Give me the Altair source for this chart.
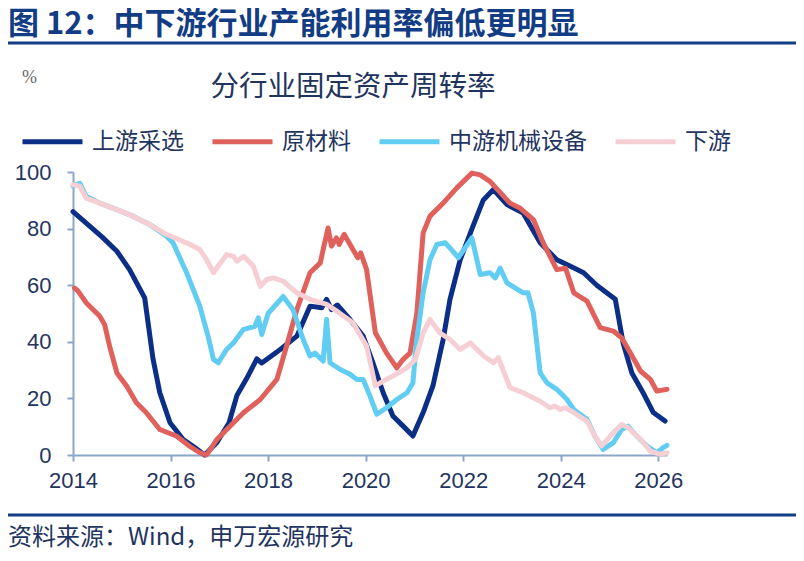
import altair as alt
import pandas as pd

FONT = "Noto Sans CJK SC"
NUMFONT = "Liberation Sans"

series_names = ["上游采选", "原材料", "中游机械设备", "下游"]
series_colors = ["#0b2e86", "#e0605c", "#62cdf2", "#f5cfd3"]

up_t = [2014.0, 2014.2, 2014.4, 2014.6, 2014.9, 2015.16, 2015.47, 2015.64, 2015.78, 2015.99,
        2016.26, 2016.47, 2016.7, 2016.95, 2017.2, 2017.36, 2017.56, 2017.77, 2017.87, 2018.25,
        2018.59, 2018.86, 2019.1, 2019.2, 2019.3, 2019.42, 2019.68, 2019.95, 2020.15, 2020.36,
        2020.56, 2020.77, 2020.97, 2021.18, 2021.38, 2021.59, 2021.73, 2021.94, 2022.2, 2022.41,
        2022.62, 2022.9, 2023.23, 2023.58, 2023.92, 2024.2, 2024.47, 2024.74, 2025.12, 2025.28,
        2025.46, 2025.69, 2025.9, 2026.14]
up_v = [86, 83, 80, 77, 72, 65.5, 55.5, 34, 22, 11.4,
        5.5, 3, 0, 4.4, 11.4, 21, 27, 34, 32.5, 37.3,
        42, 52.6, 52, 55, 51.4, 53, 47.9, 42, 32.6, 22,
        13.8, 10.2, 6.7, 15, 24.4, 40.8, 55, 69, 80.8, 90,
        93.8, 88.5, 85.5, 75, 69, 66.7, 64.4, 60, 55, 39.6,
        29, 22, 15, 12]

raw_t = [2014.03, 2014.1, 2014.27, 2014.55, 2014.65, 2014.75, 2014.9, 2015.1, 2015.3, 2015.5,
         2015.78, 2016.12, 2016.4, 2016.6, 2016.74, 2016.95, 2017.22, 2017.5, 2017.84, 2018.18,
         2018.38, 2018.59, 2018.86, 2019.07, 2019.13, 2019.23, 2019.3, 2019.4, 2019.46, 2019.56,
         2019.74, 2019.84, 2019.9, 2020.02, 2020.2, 2020.43, 2020.64, 2020.77, 2020.91, 2021.05,
         2021.18, 2021.32, 2021.59, 2021.87, 2022.18, 2022.35, 2022.55, 2022.96, 2023.16, 2023.44,
         2023.64, 2023.92, 2024.1, 2024.27, 2024.54, 2024.81, 2025.08, 2025.25, 2025.43, 2025.64,
         2025.84, 2025.97, 2026.18]
raw_v = [59, 58, 53.8, 49, 46, 38.5, 29, 24.4, 18.5, 15,
         9, 6.7, 3, 0.8, 0, 5.5, 10.2, 15, 19.6, 26.7,
         38.5, 51.4, 64.4, 67.9, 72.6, 80.2, 73.8, 76.7, 74.4, 78,
         72.6, 69.7, 71.4, 65.5, 43.2, 36, 30.8, 33.8, 36, 50,
         78.5, 84.4, 89, 94.4, 99.6, 99, 96.7, 89, 87.3, 83.2,
         75, 65.5, 66, 57.3, 54.4, 45, 43.8, 41.4, 36, 29.6,
         26.7, 22.6, 23.2]

mid_t = [2014.0, 2014.14, 2014.27, 2014.55, 2014.9, 2015.23, 2015.58, 2015.92, 2016.05, 2016.33,
         2016.6, 2016.77, 2016.88, 2016.98, 2017.15, 2017.29, 2017.49, 2017.73, 2017.8, 2017.87,
         2018.0, 2018.31, 2018.51, 2018.72, 2018.86, 2018.96, 2019.13, 2019.2, 2019.27, 2019.48,
         2019.68, 2019.82, 2019.95, 2020.09, 2020.23, 2020.43, 2020.64, 2020.85, 2020.97, 2021.04,
         2021.18, 2021.32, 2021.46, 2021.63, 2021.76, 2021.9, 2022.18, 2022.35, 2022.55, 2022.66,
         2022.76, 2022.9, 2023.23, 2023.33, 2023.44, 2023.58, 2023.72, 2023.92, 2024.13, 2024.27,
         2024.54, 2024.7, 2024.87, 2025.08, 2025.25, 2025.38, 2025.56, 2025.77, 2025.97, 2026.1,
         2026.18]
mid_v = [95, 96, 91.4, 89, 86.7, 84.4, 81.4, 77.3, 75, 64.4,
         52.6, 42, 33.8, 32.6, 37.3, 39.6, 44.3, 45.5, 48.5, 42.6,
         50, 56, 51.4, 40.8, 35, 36, 33.2, 48, 32.6, 30.2,
         28.5, 26.7, 26.7, 20.8, 14.4, 16.7, 19.6, 22, 25.5, 39.6,
         57.3, 69, 74.4, 75, 72.6, 69.7, 76.7, 63.8, 64.4, 62.6,
         66, 60.8, 57.3, 57.3, 50.2, 29, 25.5, 23.2, 19.6, 16,
         12.6, 6.7, 2, 4.4, 9, 10.2, 6.7, 3.2, 0.8, 2.6,
         3.4]

down_t = [2014.0, 2014.14, 2014.27, 2014.55, 2014.9, 2015.23, 2015.58, 2015.92, 2016.19, 2016.4,
          2016.6, 2016.74, 2016.88, 2017.0, 2017.15, 2017.29, 2017.36, 2017.5, 2017.7, 2017.84,
          2017.97, 2018.11, 2018.31, 2018.59, 2018.86, 2019.2, 2019.46, 2019.74, 2020.02, 2020.2,
          2020.36, 2020.56, 2020.85, 2021.02, 2021.18, 2021.32, 2021.52, 2021.73, 2021.94, 2022.15,
          2022.42, 2022.62, 2022.72, 2022.96, 2023.23, 2023.58, 2023.78, 2023.88, 2023.99, 2024.1,
          2024.27, 2024.54, 2024.7, 2024.84, 2025.08, 2025.25, 2025.38, 2025.64, 2025.84, 2026.04,
          2026.18]
down_v = [95.5, 95, 90.8, 89, 86.7, 84.4, 81.4, 77.9, 76, 74.4,
          72.6, 69, 64.4, 67.3, 70.8, 70.2, 68.5, 70.2, 66.7, 59.6,
          62, 62.6, 61.4, 57.3, 55, 53.2, 50.2, 46.7, 38.5, 24.4,
          26.1, 27.9, 30.8, 33.8, 43.2, 47.9, 43.2, 40.8, 37.3, 39.6,
          35, 32.6, 34.4, 23.8, 22, 19, 16.7, 17.3, 16.1, 16.7,
          15, 12, 6.7, 3.2, 7.9, 10.8, 9.7, 5.5, 1.4, 0.2,
          0.8]

x_ticks = [2014, 2016, 2018, 2020, 2022, 2024, 2026]
y_ticks = [0, 20, 40, 60, 80, 100]

main_title = "图 12：中下游行业产能利用率偏低更明显"
chart_title = "分行业固定资产周转率"
unit_label = "%"
source_label = "资料来源：Wind，申万宏源研究"

rows = []
for name, ts, vs in zip(series_names, [up_t, raw_t, mid_t, down_t], [up_v, raw_v, mid_v, down_v]):
    for t, v in zip(ts, vs):
        rows.append({"series": name, "t": t, "v": v})
df = pd.DataFrame(rows)

W, H = 594, 283
LEFT, TOP = 65, 164
NAVY = "#123c84"
TXT = "#1f3560"
AX = "#8aa6c8"

xenc = alt.X("t:Q", scale=alt.Scale(domain=[2014, 2026.18], nice=False, zero=False),
             axis=alt.Axis(values=x_ticks, format="d", title=None, grid=False,
                           labelPadding=9, labelFlush=False, labelFontSize=22,
                           labelFont=NUMFONT, labelColor=TXT))
yenc = alt.Y("v:Q", scale=alt.Scale(domain=[0, 100], nice=False),
             axis=alt.Axis(values=y_ticks, title=None, grid=False, labelPadding=16,
                           labelFontSize=22, labelFont=NUMFONT, labelColor=TXT))
cenc = alt.Color("series:N", scale=alt.Scale(domain=series_names, range=series_colors),
                 legend=alt.Legend(orient="none", legendX=-53, legendY=-63, direction="horizontal",
                                   title=None, symbolType="stroke", symbolSize=3600,
                                   symbolStrokeWidth=5, labelFontSize=23, labelFont=FONT,
                                   labelColor=TXT, labelOffset=7, columnPadding=18,
                                   symbolOpacity=1))

layers = []
for n in series_names:
    layers.append(
        alt.Chart(df).transform_filter(alt.datum.series == n)
        .mark_line(strokeWidth=5, strokeJoin="round", strokeCap="round")
        .encode(x=xenc, y=yenc, color=cenc, order="t:Q")
    )

def txt(s, px, py, size, color, align="left", weight="normal", font=FONT):
    return alt.Chart(pd.DataFrame({"s": [s]})).mark_text(
        align=align, baseline="middle", fontSize=size, font=font, color=color, fontWeight=weight
    ).encode(text="s:N", x=alt.value(px - 73), y=alt.value(py - 172))

def hline(py, color, w):
    return alt.Chart(pd.DataFrame({"a": [0]})).mark_rule(color=color, strokeWidth=w).encode(
        x=alt.value(8 - 73), x2=alt.value(796 - 73), y=alt.value(py - 172))

decor = [
    txt(main_title, 8, 25, 31, NAVY, weight="bold"),
    hline(43, NAVY, 3),
    txt(unit_label, 22, 78, 18, "#666666", font="Liberation Serif"),
    txt(chart_title, 353, 87, 28.5, TXT, align="center"),
    hline(515, NAVY, 3),
    txt(source_label, 8, 538, 24, TXT),
]

chart = alt.layer(*layers, *decor).properties(
    width=W, height=H,
    background="white",
    autosize=alt.AutoSizeParams(type="none"),
    padding={"left": LEFT, "top": TOP, "right": 788 - LEFT - W, "bottom": 545 - TOP - H},
).configure_view(stroke=None).configure_axis(
    domainColor=AX, domainWidth=2, tickColor=AX, tickWidth=2, tickSize=6,
    labelFont=NUMFONT, labelFontSize=22, labelColor=TXT,
)

chart.save("out.html", embed_options={"renderer": "svg", "actions": False})
